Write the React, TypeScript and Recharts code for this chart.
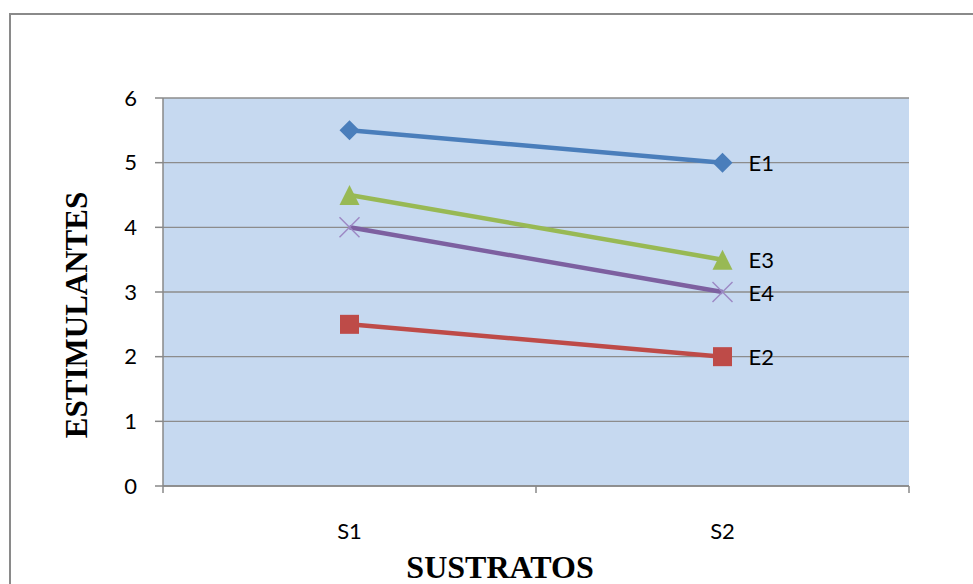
import React from 'react';
import { LineChart, Line, XAxis, YAxis, CartesianGrid, LabelList, Label } from 'recharts';

const categories = ['S1', 'S2'];
const e1 = [5.5, 5];
const e2 = [2.5, 2];
const e3 = [4.5, 3.5];
const e4 = [4, 3];
const yTicks = [0, 1, 2, 3, 4, 5, 6];
const seriesNames = ['E1', 'E2', 'E3', 'E4'];
const xTitle = 'SUSTRATOS';
const yTitle = 'ESTIMULANTES';

const data = categories.map((c, i) => ({ cat: c, E1: e1[i], E2: e2[i], E3: e3[i], E4: e4[i] }));

const COLORS = { E1: '#4A7EBB', E2: '#BE4B48', E3: '#98B954', E4: '#7D60A0' };
const AXIS = '#888888';
const TICK_FONT = 'Lato, "Open Sans", sans-serif';
const TICK_SIZE = 22;
const TITLE_FONT = '"Liberation Serif", "Times New Roman", serif';

const DiamondDot = (p: any) => {
  const { cx, cy, index } = p;
  const s = 10;
  return <polygon key={'d' + index} points={`${cx},${cy - s} ${cx + s},${cy} ${cx},${cy + s} ${cx - s},${cy}`} fill={COLORS.E1} />;
};
const SquareDot = (p: any) => {
  const { cx, cy, index } = p;
  const s = 9.5;
  return <rect key={'s' + index} x={cx - s} y={cy - s} width={2 * s} height={2 * s} fill={COLORS.E2} />;
};
const TriangleDot = (p: any) => {
  const { cx, cy, index } = p;
  const s = 10;
  return <polygon key={'t' + index} points={`${cx},${cy - s} ${cx + s},${cy + s} ${cx - s},${cy + s}`} fill={COLORS.E3} />;
};
const CrossDot = (p: any) => {
  const { cx, cy, index } = p;
  const s = 10;
  return (
    <g key={'x' + index}>
      <line x1={cx - s} y1={cy - s} x2={cx + s} y2={cy + s} stroke="#9C88C4" strokeWidth={1.5} />
      <line x1={cx - s} y1={cy + s} x2={cx + s} y2={cy - s} stroke="#9C88C4" strokeWidth={1.5} />
    </g>
  );
};

const endLabel = (name: string) => (p: any) => {
  const { x, y, index } = p;
  if (index !== categories.length - 1) return null;
  return (
    <text x={x + 26} y={y} dominantBaseline="central" fontFamily={TICK_FONT} fontSize={TICK_SIZE} fill="#000">
      {name}
    </text>
  );
};

const XTick = (p: any) => {
  const { x, y, payload, width, visibleTicksCount, index } = p;
  const half = width ? width / (2 * visibleTicksCount) : payload.offset;
  const isLast = index === visibleTicksCount - 1;
  return (
    <g>
      <line x1={x - half} y1={y} x2={x - half} y2={y + 7} stroke={AXIS} strokeWidth={1.5} />
      {isLast && <line x1={x + half} y1={y} x2={x + half} y2={y + 7} stroke={AXIS} strokeWidth={1.5} />}
      <text x={x} y={y + 44} textAnchor="middle" dominantBaseline="central" fontFamily={TICK_FONT} fontSize={TICK_SIZE} fill="#000">
        {payload.value}
      </text>
    </g>
  );
};

const YTitle = (p: any) => {
  const vb = p.viewBox || {};
  const cx = 76;
  const cy = vb.y + vb.height / 2 + 23;
  return (
    <text x={cx} y={cy} transform={`rotate(-90 ${cx} ${cy})`} textAnchor="middle" dominantBaseline="central"
      fontFamily={TITLE_FONT} fontWeight="bold" fontSize={31} fill="#000">
      {yTitle}
    </text>
  );
};

const XTitle = (p: any) => {
  const vb = p.viewBox || {};
  const cx = vb.x + vb.width / 2 - 36;
  return (
    <text x={cx} y={578} textAnchor="middle" fontFamily={TITLE_FONT} fontWeight="bold" fontSize={32} fill="#000">
      {xTitle}
    </text>
  );
};

const dots: Record<string, any> = { E1: DiamondDot, E2: SquareDot, E3: TriangleDot, E4: CrossDot };

export default function App() {
  return (
    <div style={{ position: 'absolute', left: 0, top: 0, width: 973, height: 584, overflow: 'hidden', background: '#fff' }}>
      <div style={{ position: 'absolute', left: 9, top: 13, width: 1100, height: 700, border: '2px solid #8A8A8A' }} />
      <div style={{ position: 'absolute', left: 0, top: 0 }}>
        <LineChart width={973} height={584} data={data} margin={{ top: 98, right: 64, bottom: 0, left: 0 }}>
          <CartesianGrid vertical={false} horizontal={true} fill="#C6D9F0" stroke="#8C8C8C" strokeWidth={1.3} />
          <XAxis dataKey="cat" scale="band" height={98} interval={0} tickLine={false} tickSize={0} tickMargin={0}
            axisLine={{ stroke: AXIS, strokeWidth: 1.5 }} tick={<XTick />}>
            <Label content={<XTitle />} />
          </XAxis>
          <YAxis width={163} domain={[0, 6]} ticks={yTicks} interval={0} tickSize={8} tickMargin={18}
            axisLine={{ stroke: AXIS, strokeWidth: 1.5 }} tickLine={{ stroke: AXIS, strokeWidth: 1.5 }}
            tick={{ fill: '#000', fontFamily: TICK_FONT, fontSize: TICK_SIZE }}>
            <Label content={<YTitle />} />
          </YAxis>
          {seriesNames.map((n) => (
            <Line key={n} dataKey={n} type="linear" stroke={(COLORS as any)[n]} strokeWidth={4.5}
              dot={dots[n]} activeDot={false} isAnimationActive={false}>
              <LabelList dataKey={n} content={endLabel(n)} />
            </Line>
          ))}
        </LineChart>
      </div>
    </div>
  );
}
